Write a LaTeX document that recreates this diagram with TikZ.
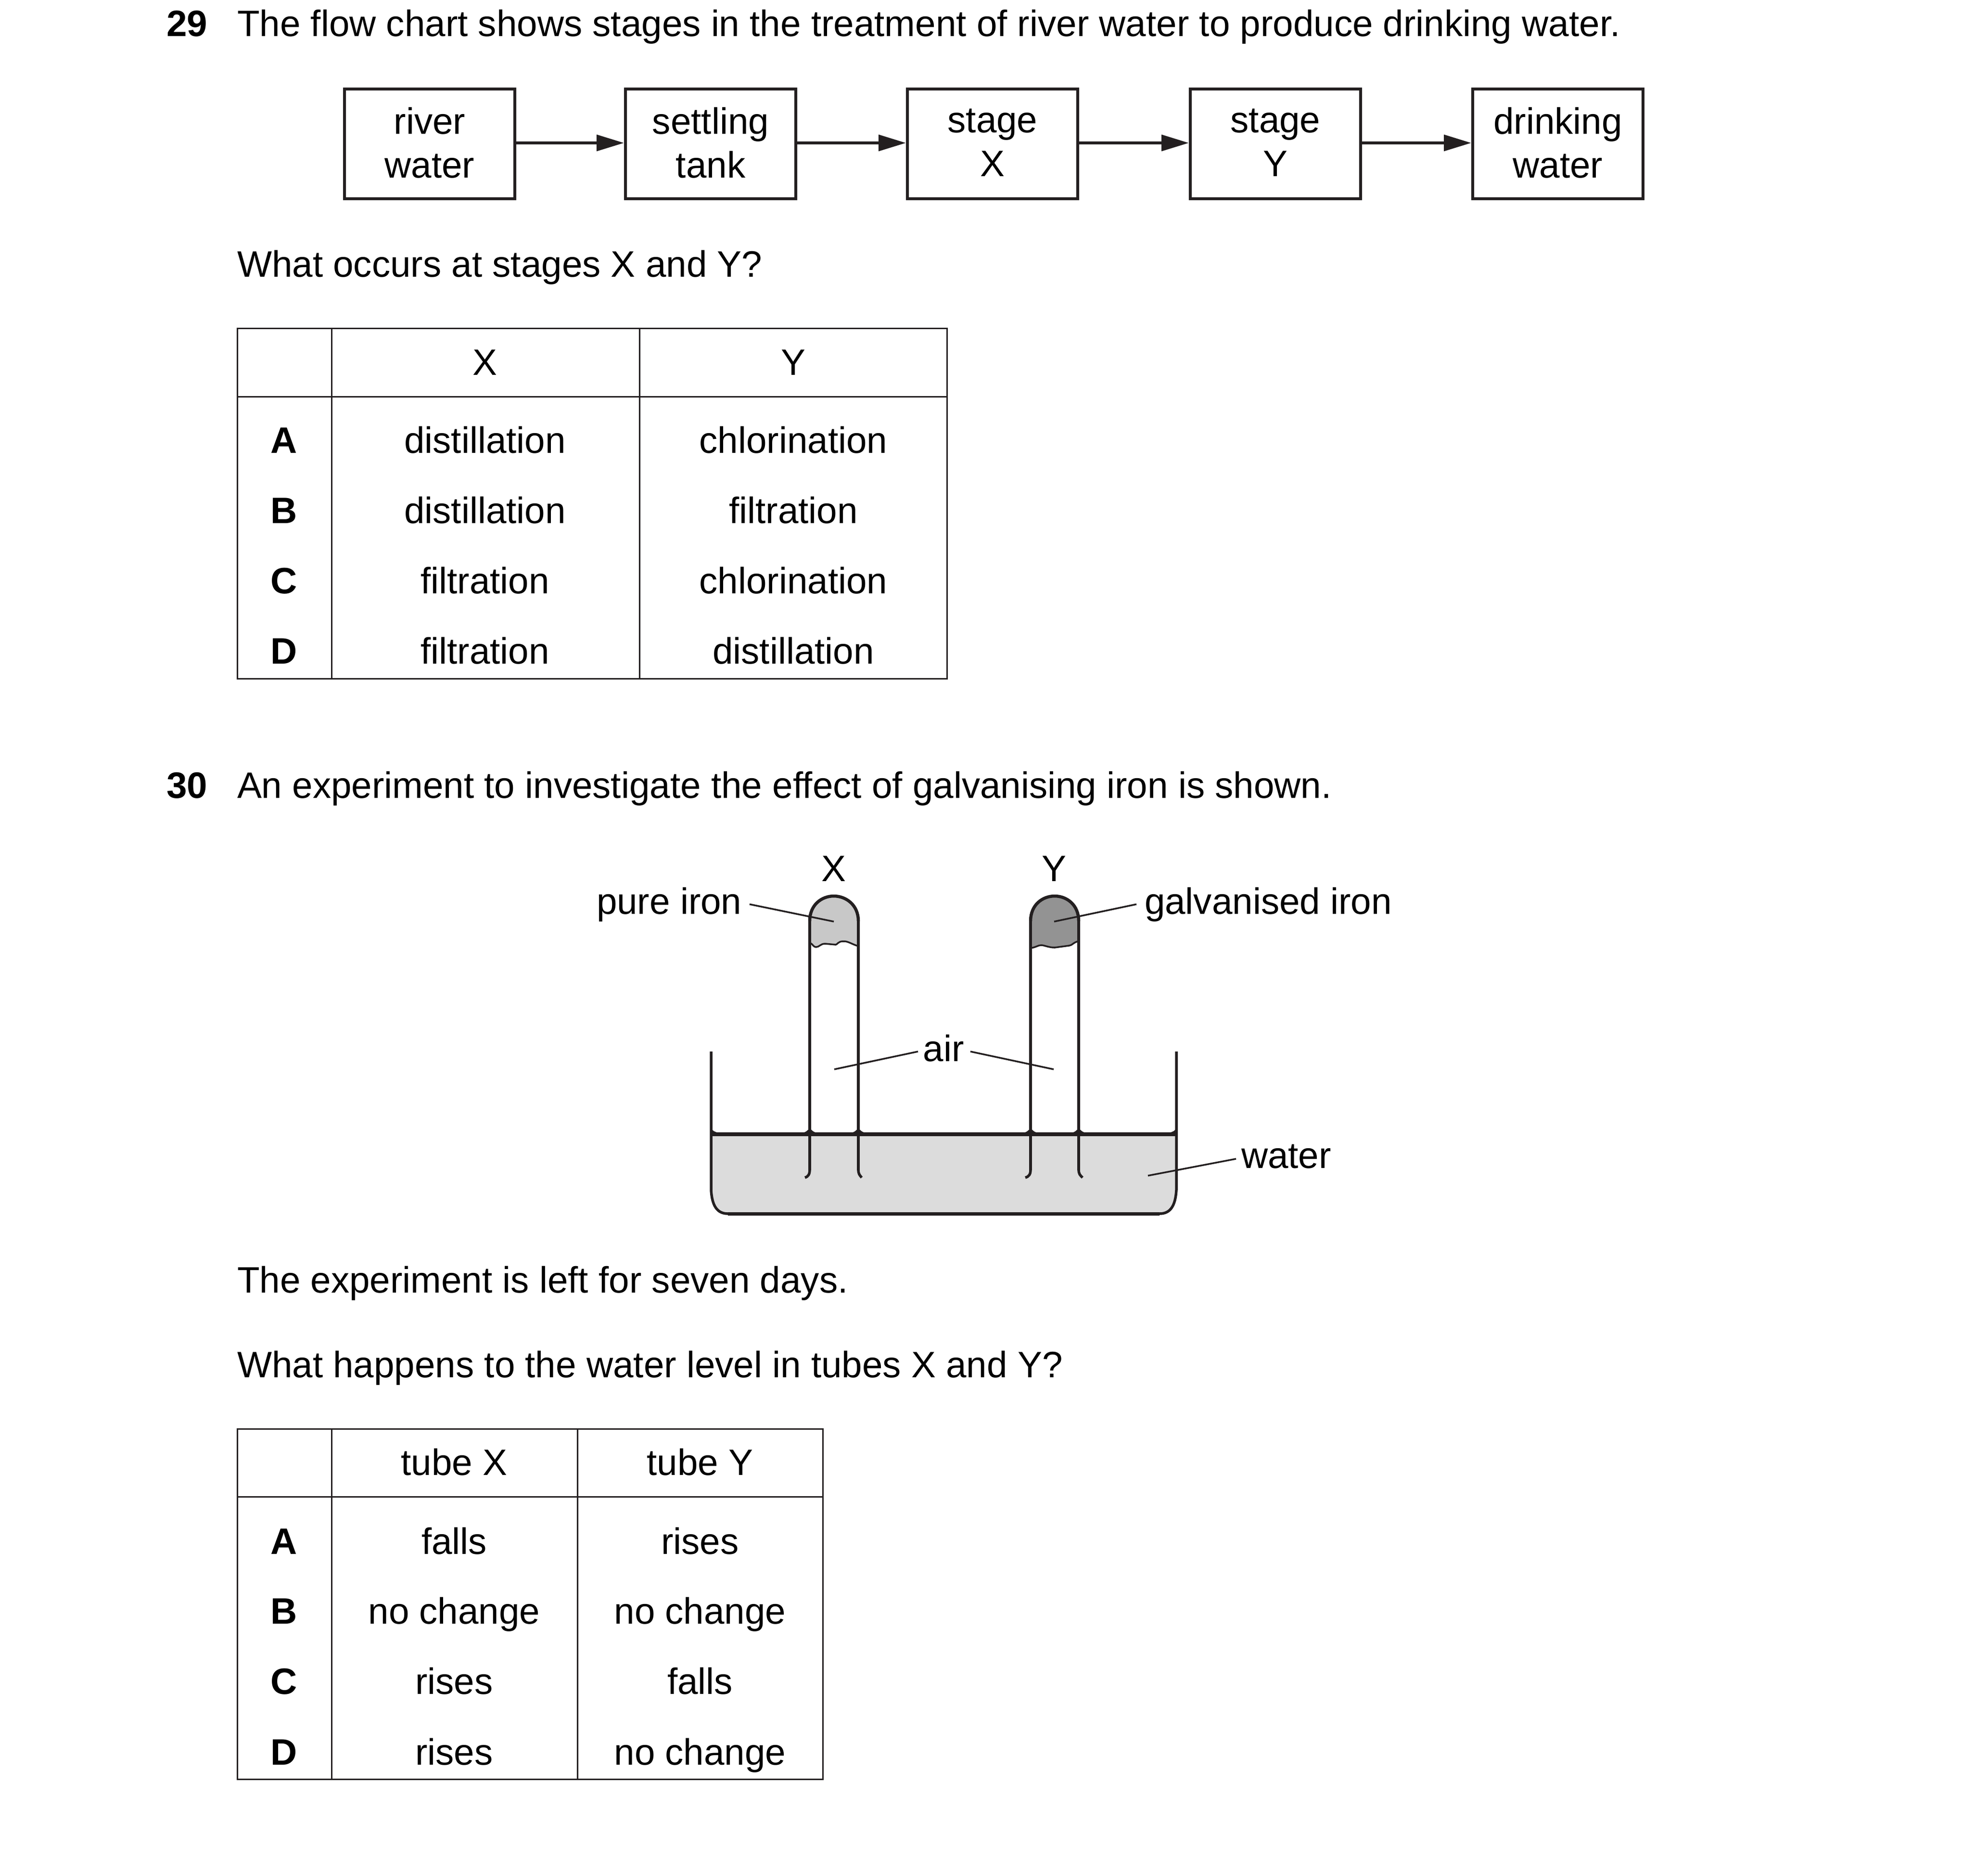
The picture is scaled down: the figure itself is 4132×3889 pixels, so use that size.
\documentclass[tikz,border=0pt]{standalone}
\usepackage{fontspec}
\setmainfont{Liberation Sans}
\usetikzlibrary{arrows.meta}
\definecolor{ink}{HTML}{231F20}
\definecolor{ironx}{HTML}{C8C8C8}
\definecolor{irony}{HTML}{939393}
\definecolor{wat}{HTML}{DCDCDC}
\newcommand{\boxup}[1]{\raisebox{5pt}{#1}}
\newcommand{\bodyfont}{\fontsize{76.4}{91}\selectfont}
\tikzset{
  txt/.style={anchor=base west,inner sep=0pt,outer sep=0pt,text=black},
  ctxt/.style={anchor=base,inner sep=0pt,outer sep=0pt,text=black},
  btxt/.style={ctxt,font=\bodyfont\bfseries},
  flowbox/.style={draw=ink,line width=6pt,minimum width=354pt,minimum height=228pt,inner sep=0pt,align=center,text=black},
  flowarrow/.style={draw=ink,line width=6.5pt,-{Triangle[length=57pt,width=33pt]}},
  tline/.style={draw=ink,line width=3pt},
  wall/.style={draw=ink,line width=5.5pt},
  domeline/.style={draw=ink,line width=6.5pt},
  leader/.style={draw=ink,line width=3.5pt},
  fillet/.pic={\fill[ink] (-19,-2) .. controls (-9,-4) and (-3,-7) .. (0,-15) .. controls (3,-7) and (9,-4) .. (19,-2) -- cycle;},
}
\begin{document}
\begin{tikzpicture}[x=1pt,y=-1pt,every node/.style={font=\bodyfont}]
\useasboundingbox (0,0) rectangle (4132,3889);
% Q29
\node[txt,font=\bodyfont\bfseries] (q29) at (346,75) {29};
\node[txt] (t29) at (493,75) {The flow chart shows stages in the treatment of river water to produce drinking water.};
\node[flowbox] (b1) at (893,299) {\boxup{river}\\\boxup{water}};
\node[flowbox] (b2) at (1477,299) {\boxup{settling}\\\boxup{tank}};
\node[flowbox] (b3) at (2063,299) {\boxup{stage}\\\boxup{X}};
\node[flowbox] (b4) at (2651,299) {\boxup{stage}\\\boxup{Y}};
\node[flowbox] (b5) at (3238,299) {\boxup{drinking}\\\boxup{water}};
\draw[flowarrow] ([yshift=2pt]b1.east) -- ([yshift=2pt]b2.west);
\draw[flowarrow] ([yshift=2pt]b2.east) -- ([yshift=2pt]b3.west);
\draw[flowarrow] ([yshift=2pt]b3.east) -- ([yshift=2pt]b4.west);
\draw[flowarrow] ([yshift=2pt]b4.east) -- ([yshift=2pt]b5.west);
\node[txt] (w1) at (493,575) {What occurs at stages X and Y?};
% Table 1
\draw[tline] (493,682) rectangle (1968,1410);
\draw[tline] (493,824) -- (1968,824);
\draw[tline] (689,682) -- (689,1410);
\draw[tline] (1329,682) -- (1329,1410);
\node[ctxt] (h1x) at (1008,779) {X};
\node[ctxt] (h1y) at (1649,779) {Y};
\node[btxt] (a1) at (590,941) {A};
\node[ctxt] (a1x) at (1008,941) {distillation};
\node[ctxt] (a1y) at (1649,941) {chlorination};
\node[btxt] (b1r) at (590,1087) {B};
\node[ctxt] (b1x) at (1008,1087) {distillation};
\node[ctxt] (b1y) at (1649,1087) {filtration};
\node[btxt] (c1r) at (590,1233) {C};
\node[ctxt] (c1x) at (1008,1233) {filtration};
\node[ctxt] (c1y) at (1649,1233) {chlorination};
\node[btxt] (d1r) at (590,1379) {D};
\node[ctxt] (d1x) at (1008,1379) {filtration};
\node[ctxt] (d1y) at (1649,1379) {distillation};
% Q30
\node[txt,font=\bodyfont\bfseries] (q30) at (346,1658) {30};
\node[txt] (t30) at (493,1658) {An experiment to investigate the effect of galvanising iron is shown.};
% apparatus
\fill[wat] (1478,2357) -- (1478,2473) .. controls (1480,2505) and (1490,2523) .. (1513,2523) -- (2410,2523) .. controls (2433,2523) and (2443,2505) .. (2445,2473) -- (2445,2357) -- cycle;
\draw[wall] (1478,2185) -- (1478,2473) .. controls (1480,2505) and (1490,2522) .. (1513,2522);
\draw[wall] (2445,2185) -- (2445,2473) .. controls (2443,2505) and (2433,2522) .. (2410,2522);
\draw[ink,line width=7.5pt] (1513,2522.5) -- (2410,2522.5);
\draw[ink,line width=7.5pt] (1478,2357) -- (2445,2357);
\fill[ink] (1478,2355) -- (1478,2344) .. controls (1481,2350) and (1485,2352) .. (1494,2354) -- cycle;
\fill[ink] (2445,2355) -- (2445,2344) .. controls (2442,2350) and (2438,2352) .. (2429,2354) -- cycle;
\path (1683,2357) pic {fillet} (1784,2357) pic {fillet} (2142,2357) pic {fillet} (2242,2357) pic {fillet};
% tube X
\fill[ironx] (1683,1912) .. controls (1683,1880) and (1708,1862) .. (1733,1862) .. controls (1758,1862) and (1784,1880) .. (1784,1912) -- (1784,1966)
 .. controls (1770,1962) and (1762,1955) .. (1752,1956) .. controls (1742,1956) and (1740,1963) .. (1737,1963) -- (1715,1961) .. controls (1705,1961) and (1703,1968) .. (1696,1968) .. controls (1691,1968) and (1689,1962) .. (1685,1960) -- cycle;
\draw[wall] (1683,2432) -- (1683,1912);
\draw[wall] (1784,2432) -- (1784,1912);
\draw[domeline] (1683,1914) .. controls (1683,1880) and (1708,1862) .. (1733,1862) .. controls (1758,1862) and (1784,1880) .. (1784,1914);
\draw[ink,line width=3.5pt] (1685,1960) .. controls (1689,1962) and (1691,1968) .. (1696,1968) .. controls (1703,1968) and (1705,1961) .. (1715,1961) -- (1737,1963) .. controls (1740,1963) and (1742,1956) .. (1752,1956) .. controls (1762,1955) and (1770,1962) .. (1784,1966);
% tube Y
\fill[irony] (2142,1912) .. controls (2142,1880) and (2167,1862) .. (2192,1862) .. controls (2217,1862) and (2242,1880) .. (2242,1912) -- (2242,1956)
 .. controls (2232,1957) and (2228,1965) .. (2222,1965) -- (2192,1969) .. controls (2180,1969) and (2170,1964) .. (2164,1964) .. controls (2158,1964) and (2152,1969) .. (2142,1970) -- cycle;
\draw[wall] (2142,2432) -- (2142,1912);
\draw[wall] (2242,2432) -- (2242,1912);
\draw[domeline] (2142,1914) .. controls (2142,1880) and (2167,1862) .. (2192,1862) .. controls (2217,1862) and (2242,1880) .. (2242,1914);
\draw[ink,line width=3.5pt] (2142,1970) .. controls (2152,1969) and (2158,1964) .. (2164,1964) .. controls (2170,1964) and (2180,1969) .. (2192,1969) -- (2222,1965) .. controls (2228,1965) and (2232,1957) .. (2242,1956);
% flicks
\draw[wall] (1683,2430) .. controls (1683,2440) and (1680,2445) .. (1673,2447);
\draw[wall] (1784,2430) .. controls (1784,2440) and (1787,2442) .. (1791,2447);
\draw[wall] (2142,2430) .. controls (2142,2440) and (2139,2445) .. (2131,2447);
\draw[wall] (2242,2430) .. controls (2242,2440) and (2245,2442) .. (2250,2447);
% labels
\node[ctxt] (lx) at (1733,1831) {X};
\node[ctxt] (ly) at (2191,1831) {Y};
\node[txt] (lp) at (1240,1899) {pure iron};
\node[txt] (lg) at (2379,1899) {galvanised iron};
\node[ctxt] (la) at (1961,2205) {air};
\node[txt] (lw) at (2580,2427) {water};
\coordinate (pa) at (1558,1879);
\coordinate (ga) at (2362,1879);
\coordinate (aa) at (1908,2185);
\coordinate (ab) at (2017,2185);
\coordinate (wa) at (2569,2408);
\coordinate (px) at (1733,1915);
\coordinate (gy) at (2191,1915);
\coordinate (ax) at (1734,2222);
\coordinate (ay) at (2190,2222);
\coordinate (wp) at (2386,2443);
\draw[leader] (pa) -- (px);
\draw[leader] (ga) -- (gy);
\draw[leader] (aa) -- (ax);
\draw[leader] (ab) -- (ay);
\draw[leader] (wa) -- (wp);
\node[txt] (s1) at (493,2686) {The experiment is left for seven days.};
\node[txt] (s2) at (493,2862) {What happens to the water level in tubes X and Y?};
% Table 2
\draw[tline] (493,2969) rectangle (1710,3697);
\draw[tline] (493,3110) -- (1710,3110);
\draw[tline] (689,2969) -- (689,3697);
\draw[tline] (1200,2969) -- (1200,3697);
\node[ctxt] (h2x) at (944,3065) {tube X};
\node[ctxt] (h2y) at (1455,3065) {tube Y};
\node[btxt] (a2) at (590,3229) {A};
\node[ctxt] (a2x) at (944,3229) {falls};
\node[ctxt] (a2y) at (1455,3229) {rises};
\node[btxt] (b2r) at (590,3374) {B};
\node[ctxt] (b2x) at (944,3374) {no change};
\node[ctxt] (b2y) at (1455,3374) {no change};
\node[btxt] (c2r) at (590,3520) {C};
\node[ctxt] (c2x) at (944,3520) {rises};
\node[ctxt] (c2y) at (1455,3520) {falls};
\node[btxt] (d2r) at (590,3667) {D};
\node[ctxt] (d2x) at (944,3667) {rises};
\node[ctxt] (d2y) at (1455,3667) {no change};
\end{tikzpicture}
\end{document}
